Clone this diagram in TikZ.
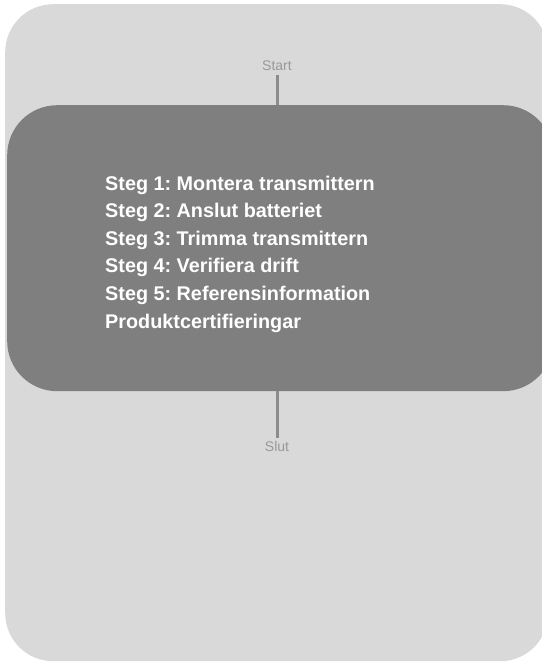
\documentclass[tikz,border=0pt]{standalone}
\usepackage{fontspec}
\setmainfont{Liberation Sans}
\usetikzlibrary{positioning}
\frenchspacing

\definecolor{panelgray}{HTML}{D9D9D9}
\definecolor{boxgray}{HTML}{7F7F7F}
\definecolor{linegray}{HTML}{8C8C8C}
\definecolor{labelgray}{HTML}{999999}

\begin{document}
\begin{tikzpicture}[
    x=1pt, y=-1pt,
    panel/.style={rectangle, fill=panelgray, rounded corners=48pt, inner sep=0pt, minimum width=543pt, minimum height=657pt},
    tocbox/.style={rectangle, fill=boxgray, rounded corners=50pt, inner sep=0pt, minimum width=546pt, minimum height=286pt},
    endlabel/.style={font=\fontsize{14}{16}\selectfont, text=labelgray, inner sep=0pt},
    steps/.style={font=\bfseries\fontsize{19.8}{27.6}\selectfont, text=white, align=left, inner sep=0pt},
    conn/.style={draw=linegray, line width=3pt}
]
\useasboundingbox (0,0) rectangle (541,663);
% Background panel and contents box
\node[panel, anchor=north west] (page) at (5,4) {};
\node[tocbox, anchor=north west] (toc) at (7,105) {};
% Texts
\node[endlabel, anchor=base] (start) at (277,71) {Start};
\node[endlabel, anchor=base] (slut) at (277,451) {Slut};
\node[steps, anchor=base west] (list) at (105,328) {Steg 1: Montera transmittern\\
Steg 2: Anslut batteriet\\
Steg 3: Trimma transmittern\\
Steg 4: Verifiera drift\\
Steg 5: Referensinformation\\
Produktcertifieringar};
% Connectors
\draw[conn] ([yshift=-4pt]start.south) -- (start.south |- toc.north);
\draw[conn] (slut.north |- toc.south) -- ([yshift=3pt]slut.north);
\end{tikzpicture}
\end{document}
